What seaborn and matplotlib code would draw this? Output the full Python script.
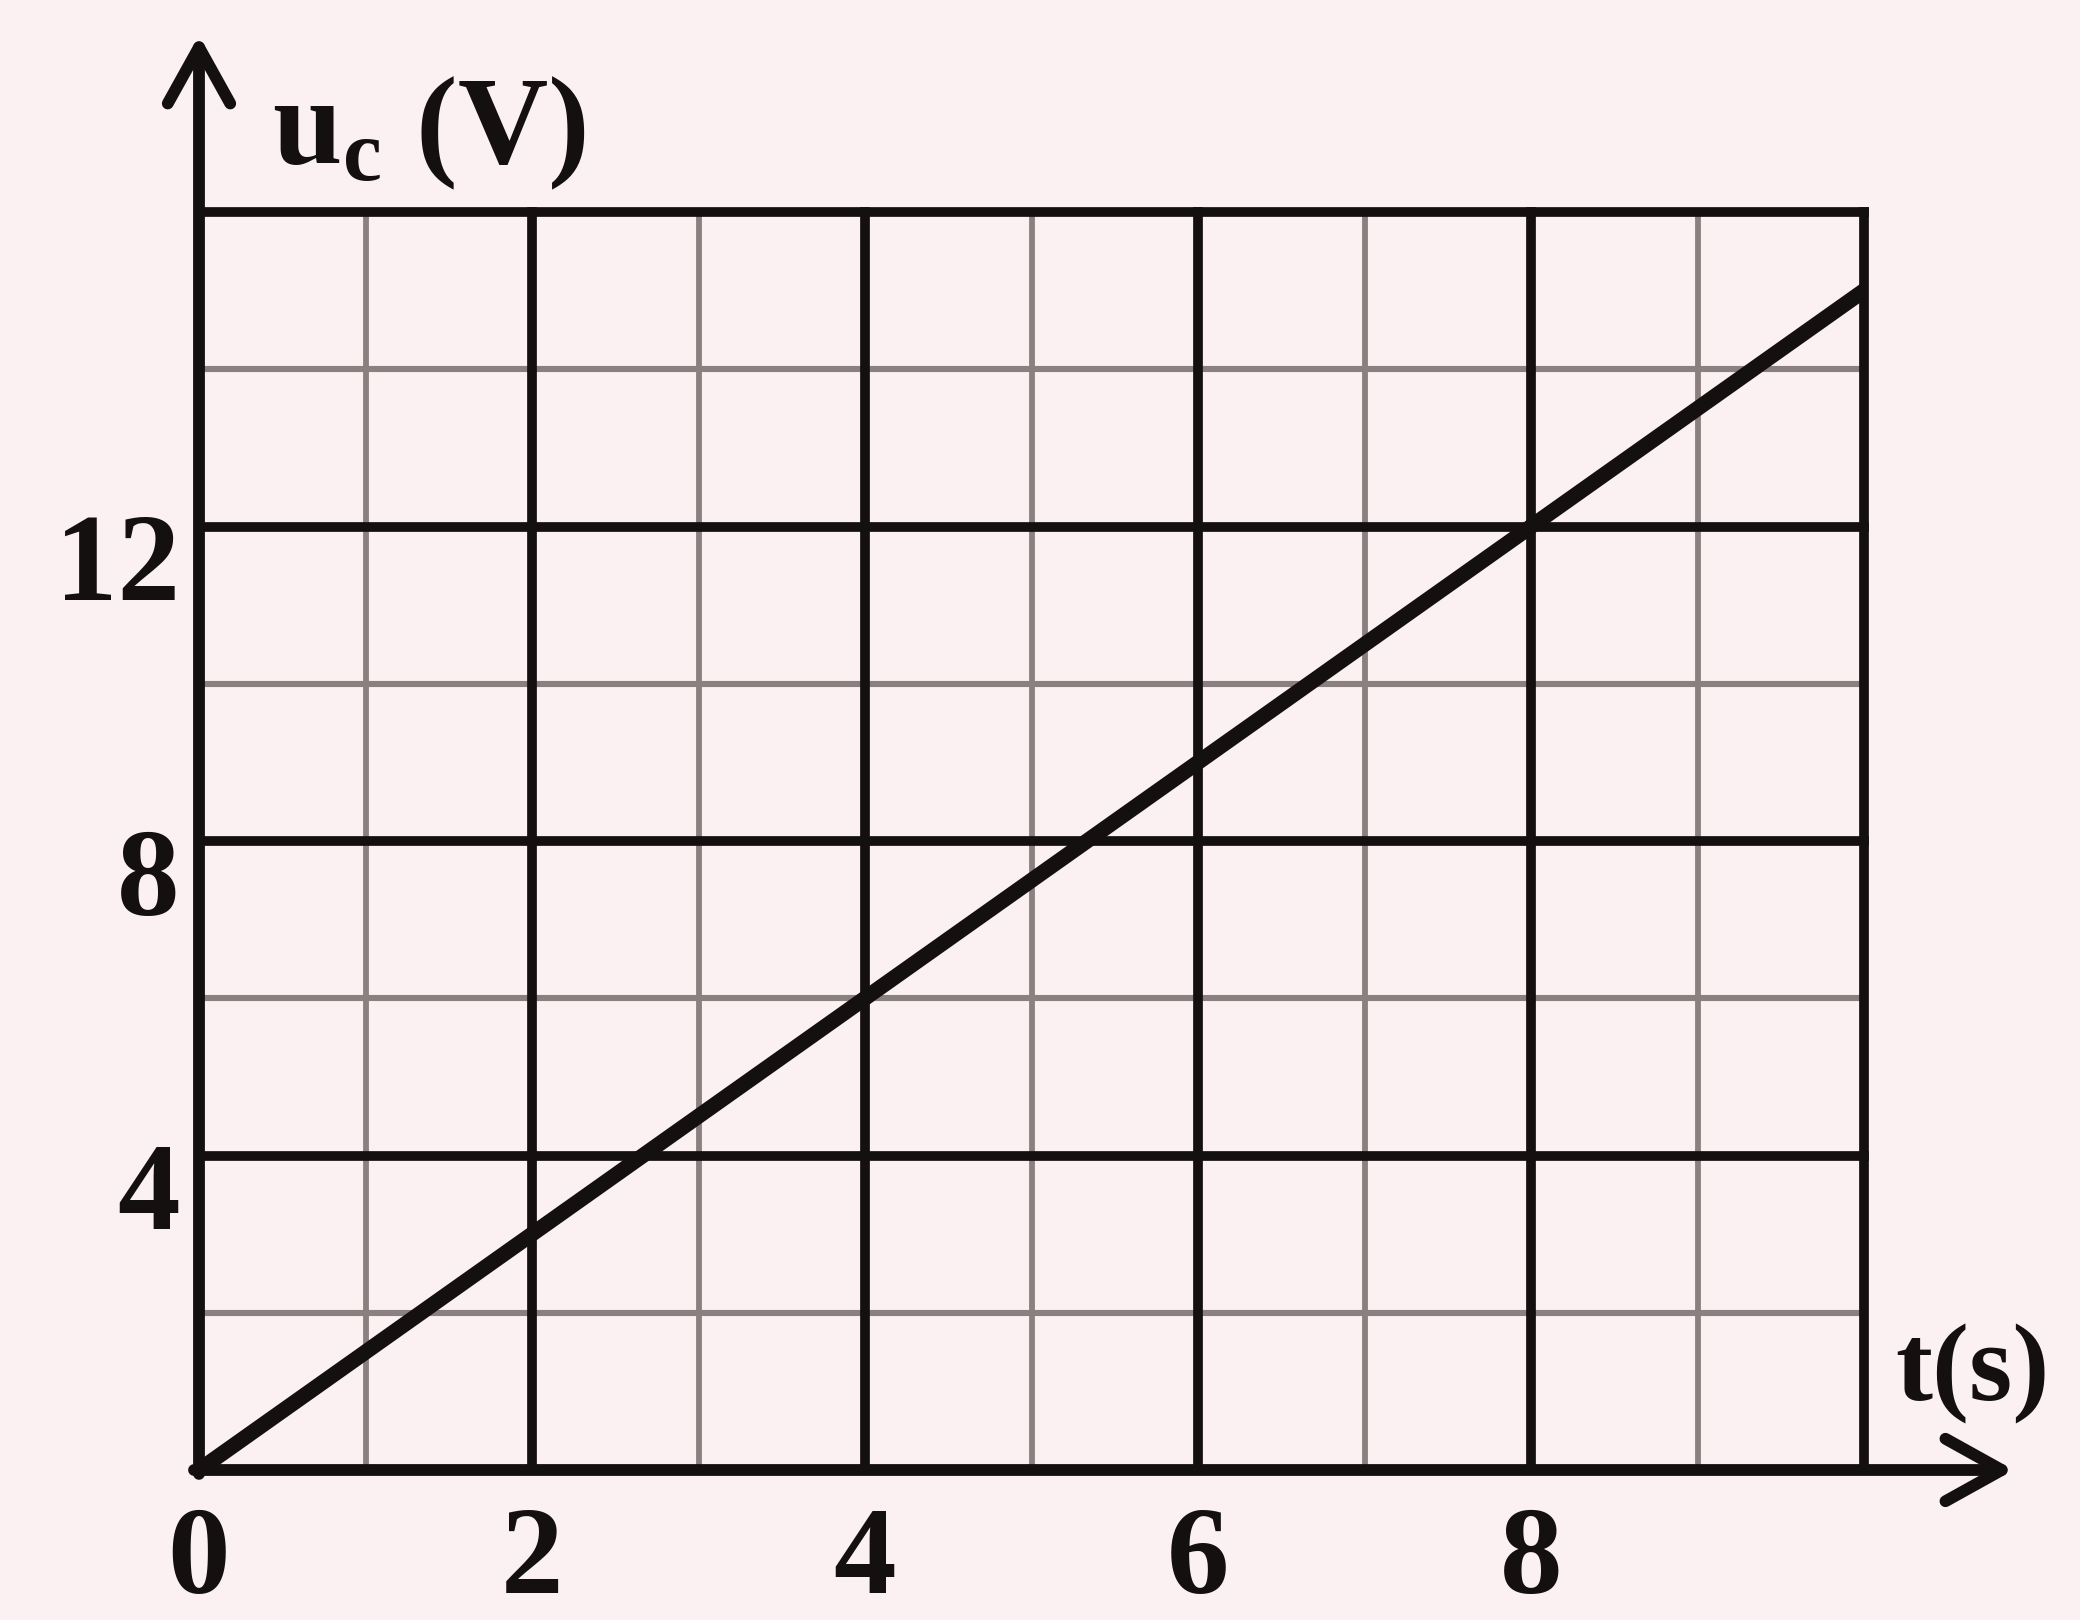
import matplotlib
matplotlib.use("Agg")
import matplotlib.pyplot as plt
import matplotlib.transforms as mtransforms
import pandas as pd
import seaborn as sns

# data
t_values = [0, 10]
uc_values = [0, 15]
x_ticks = [0, 2, 4, 6, 8]
y_ticks = [4, 8, 12]
x_minor = [1, 3, 5, 7, 9]
x_major = [2, 4, 6, 8, 10]
y_minor = [2, 6, 10, 14]
y_major = [4, 8, 12, 16]

bg = "#fbf0f2"
ink = "#141010"
gray = "#8a8080"
serif = "Liberation Serif"

sns.set_style("white")
plt.rcParams["font.family"] = serif
plt.rcParams["font.weight"] = "bold"
plt.rcParams["mathtext.fontset"] = "custom"
plt.rcParams["mathtext.rm"] = "Liberation Serif:bold"
plt.rcParams["mathtext.it"] = "Liberation Serif:bold"

fig = plt.figure(figsize=(20.8, 16.2), dpi=100, facecolor=bg)
ax = fig.add_axes([199 / 2080, 150 / 1620, 1665 / 2080, 1258 / 1620])
ax.set_facecolor(bg)
ax.set_xlim(0, 10)
ax.set_ylim(0, 16)
for s in ax.spines.values():
    s.set_visible(False)

# grid
for x in x_minor:
    ax.plot([x, x], [0, 16], color=gray, lw=4.2, zorder=1, clip_on=False)
for x in x_major:
    ax.plot([x, x], [0, 16], color=ink, lw=7, zorder=2, clip_on=False,
            solid_capstyle="projecting")
for y in y_minor:
    ax.plot([0, 10], [y, y], color=gray, lw=4.4, zorder=1, clip_on=False)
for y in y_major:
    ax.plot([0, 10], [y, y], color=ink, lw=7, zorder=2, clip_on=False,
            solid_capstyle="projecting")

# axes with arrows
arrow = dict(arrowstyle="->,head_length=0.9,head_width=0.5", color=ink,
             lw=8.5, shrinkA=0, shrinkB=0, mutation_scale=45)
ax.annotate("", xy=(0, 18.25), xytext=(0, -0.05), xycoords="data",
            arrowprops=arrow, annotation_clip=False, zorder=4)
ax.annotate("", xy=(10.9, 0), xytext=(-0.03, 0), xycoords="data",
            arrowprops=arrow, annotation_clip=False, zorder=4)

# the charging line
df = pd.DataFrame({"t": t_values, "uc": uc_values})
sns.lineplot(data=df, x="t", y="uc", ax=ax, color=ink, lw=11, zorder=5)

ax.set_xlabel("")
ax.set_ylabel("")
ax.set_xticks(x_ticks)
ax.set_xticklabels([str(v) for v in x_ticks], family=serif, weight="bold")
ax.set_yticks(y_ticks)
ax.set_yticklabels([str(v) for v in y_ticks], family=serif, weight="bold")
ax.tick_params(axis="both", length=0, labelsize=90, colors=ink)
ax.tick_params(axis="x", pad=26)
ax.tick_params(axis="y", pad=14)
shift = mtransforms.ScaledTranslation(0, -0.3, fig.dpi_scale_trans)
for lbl in ax.get_yticklabels():
    lbl.set_transform(lbl.get_transform() + shift)

# axis titles
fig.text(272 / 2080, 1 - 163 / 1620, r"$\mathrm{u_c}$ (V)", fontsize=90,
         family=serif, fontweight="bold", color=ink, ha="left", va="baseline")
fig.text(1895 / 2080, 1 - 1400 / 1620, "t(s)", fontsize=80,
         family=serif, fontweight="bold", color=ink, ha="left", va="baseline")

fig.savefig("out.png", dpi=100, facecolor=bg)
